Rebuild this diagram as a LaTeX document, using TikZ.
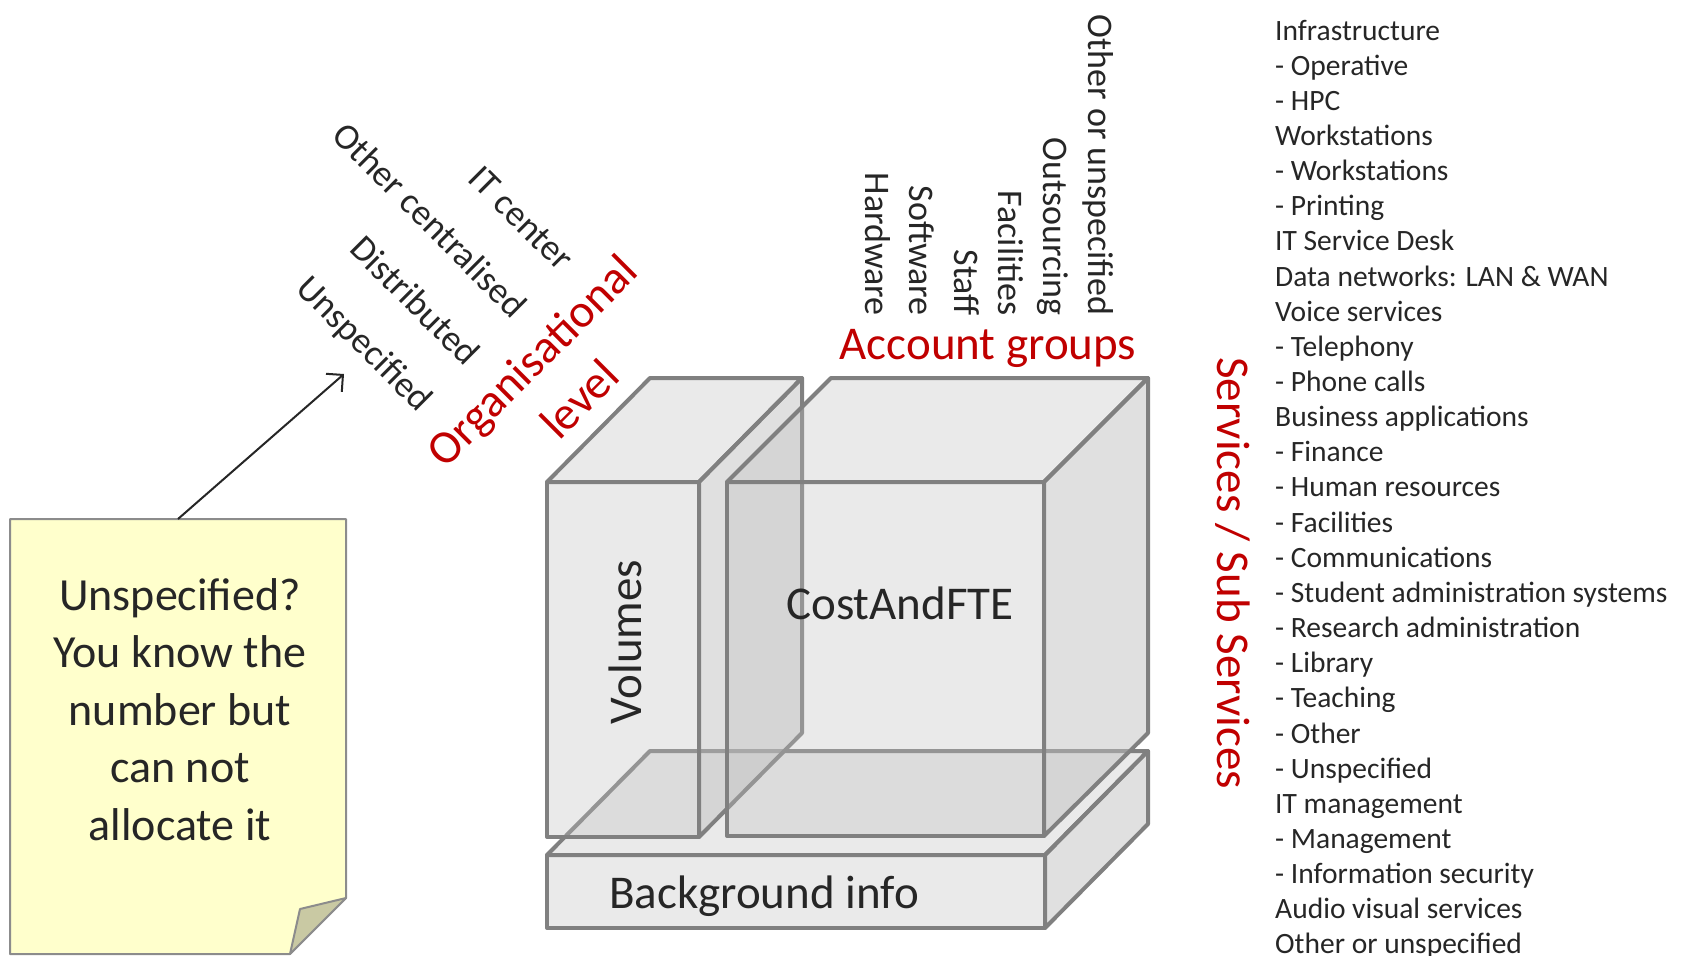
\documentclass[tikz,border=0pt]{standalone}
\usepackage{fontspec}
\setmainfont{Carlito}
\usetikzlibrary{arrows.meta}
\definecolor{txt}{HTML}{262626}
\definecolor{redt}{HTML}{C00000}
\definecolor{edgec}{HTML}{808080}
\definecolor{facec}{HTML}{BFBFBF}
\definecolor{notefill}{HTML}{FFFFCC}
\definecolor{flapfill}{HTML}{C9C9A3}
\definecolor{noteedge}{HTML}{8C8C8C}
\begin{document}
\begin{tikzpicture}[x=1pt,y=-1pt,
  frontface/.style={draw=edgec, line width=4pt, line join=round, fill=facec, fill opacity=0.33},
  sideface/.style={frontface, fill opacity=0.48},
  bigtxt/.style={font=\fontsize{47}{57}\selectfont, text=txt, inner sep=0pt},
  redtxt/.style={font=\fontsize{47}{57}\selectfont, text=redt, inner sep=0pt},
  axtxt/.style={font=\fontsize{36}{44}\selectfont, text=txt, inner sep=0pt},
  orgtxt/.style={font=\fontsize{36.5}{44}\selectfont, text=txt, inner sep=0pt, rotate=-45, anchor=mid east},
  listtxt/.style={font=\fontsize{29.5}{35}\selectfont, text=txt, inner sep=0pt, anchor=base west},
  notetxt/.style={font=\fontsize{46}{57}\selectfont, text=txt, inner sep=0pt, anchor=base},
]
\useasboundingbox (0,0) rectangle (1682,956);

% ---- Background info slab
\draw[frontface] (547,855) rectangle (1045,928);
\draw[frontface] (547,855) -- (1045,855) -- (1148,751) -- (650,751) -- cycle;
\draw[sideface] (1045,855) -- (1148,751) -- (1148,824) -- (1045,928) -- cycle;

% ---- Volumes box
\draw[frontface] (547,482) rectangle (699,837);
\draw[frontface] (547,482) -- (699,482) -- (802,378) -- (650,378) -- cycle;
\draw[sideface] (699,482) -- (802,378) -- (802,733) -- (699,837) -- cycle;

% ---- CostAndFTE box
\draw[frontface] (727,482) rectangle (1044,836);
\draw[frontface] (727,482) -- (1044,482) -- (1148,378) -- (831,378) -- cycle;
\draw[sideface] (1044,482) -- (1148,378) -- (1148,733) -- (1044,836) -- cycle;

\node[bigtxt, rotate=90, anchor=base] (vol) at (641,642) {Volumes};
\node[bigtxt, anchor=base] (cost) at (900,619) {CostAndFTE};
\node[bigtxt, anchor=base] (bg) at (764,908) {Background info};

% ---- Account groups
\node[redtxt, anchor=base] (acc) at (988,359) {Account groups};
\foreach \t [count=\i] in {Hardware,Software,Staff,Facilities,Outsourcing,Other or unspecified}
  \node[axtxt, rotate=-90, anchor=base east] (a\i) at ({865+44.6*(\i-1)},316) {\t};

% ---- Services / Sub Services
\node[redtxt, rotate=-90, anchor=base] (serv) at (1217,573) {Services / Sub Services};

% ---- Organisational level
\node[redtxt, rotate=45] (org1) at (534,363) {Organisational};
\node[redtxt, rotate=45] (org2) at (579,399) {level};
\node[orgtxt] (o1) at (561,271) {IT center};
\node[orgtxt] (o2) at (514,318) {Other centralised};
\node[orgtxt] (o3) at (467,366) {Distributed};
\node[orgtxt] (o4) at (420,412) {Unspecified};

% ---- Sticky note
\draw[fill=notefill, draw=noteedge, line width=2pt, line join=round]
  (10,519) -- (346,519) -- (346,898) -- (290,954) -- (10,954) -- cycle;
\draw[fill=flapfill, draw=noteedge, line width=2pt, line join=round]
  (290,954) -- (300,909) -- (346,898) -- cycle;
\node[notetxt] (n1) at (180,610) {Unspecified?};
\node[notetxt] (n2) at (180,667.5) {You know the};
\node[notetxt] (n3) at (180,725) {number but};
\node[notetxt] (n4) at (180,782.5) {can not};
\node[notetxt] (n5) at (180,840) {allocate it};
\coordinate (ns) at (178,519);
\coordinate (ua) at (344,374);
\draw[txt, line width=2pt, -{Straight Barb[length=12pt,width=24pt]}] (ns) -- (ua);

% ---- Services list
\foreach \t [count=\i] in {Infrastructure,- Operative,- HPC,Workstations,- Workstations,- Printing,IT Service Desk,Data networks: LAN \& WAN,Voice services,- Telephony,- Phone calls,Business applications,- Finance,- Human resources,- Facilities,- Communications,- Student administration systems,- Research administration,- Library,- Teaching,- Other,- Unspecified,IT management,- Management,- Information security,Audio visual services,Other or unspecified}
  \node[listtxt] (s\i) at (1275,{40+(\i-1)*35.15}) {\t};
\end{tikzpicture}
\end{document}
